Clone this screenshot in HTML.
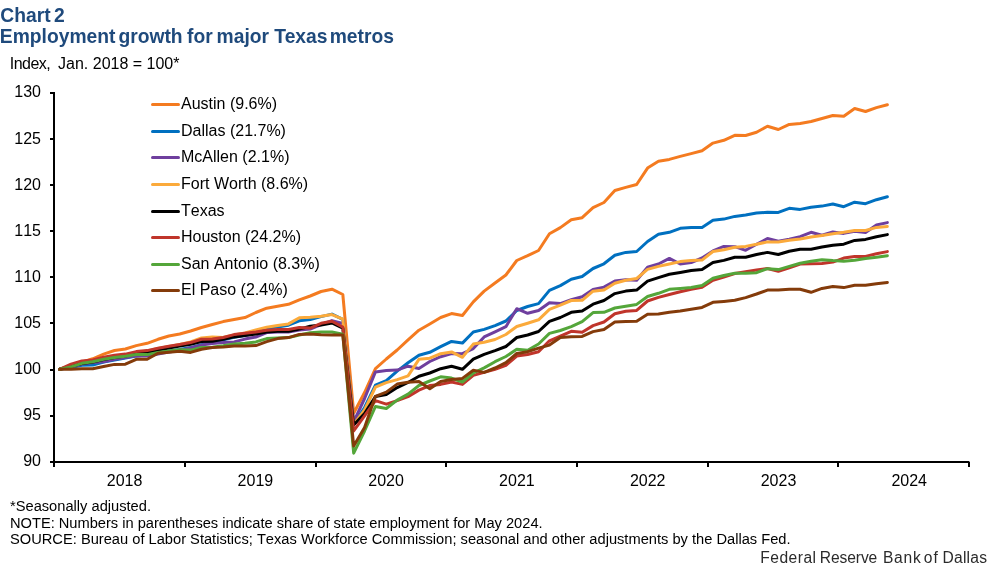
<!DOCTYPE html>
<html lang="en">
<head>
<meta charset="utf-8">
<title>Chart 2: Employment growth for major Texas metros</title>
<style>
html,body{margin:0;padding:0;background:#fff;}
body{width:997px;height:565px;overflow:hidden;position:relative;font-family:"Liberation Sans",Arial,Helvetica,sans-serif;}
svg{position:absolute;left:0;top:0;display:block;}
text{font-family:"Liberation Sans",Arial,Helvetica,sans-serif;font-kerning:none;}
.t{font-weight:bold;font-size:19.6px;fill:#1F4A7C;font-kerning:normal;}
.a{font-size:16px;fill:#000;}
.n{font-size:14.67px;fill:#000;}
.f{font-size:15.6px;fill:#2b2b2b;}
.ln{fill:none;stroke-width:3;stroke-linejoin:round;stroke-linecap:round;}
</style>
</head>
<body>
<svg width="997" height="565" viewBox="0 0 997 565">
<rect width="997" height="565" fill="#fff"/>

<text class="t" transform="translate(0,22.3) scale(0.9840,1)"><tspan x="0.30">Chart</tspan> <tspan x="54.88">2</tspan></text>
<text class="t" transform="translate(0,43.3) scale(0.9840,1)"><tspan x="-0.20">Employment</tspan> <tspan x="120.33">growth</tspan> <tspan x="190.14">for</tspan> <tspan x="220.12">major</tspan> <tspan x="278.76">Texas</tspan> <tspan x="335.06">metros</tspan></text>
<text class="a" x="9.8" y="69"><tspan style="letter-spacing:-0.55px">Index,</tspan><tspan dx="3.5"> Jan. 2018 = 100*</tspan></text>
<text class="a" x="41" y="466" text-anchor="end">90</text>
<text class="a" x="41" y="420" text-anchor="end">95</text>
<text class="a" x="41" y="374" text-anchor="end">100</text>
<text class="a" x="41" y="328" text-anchor="end">105</text>
<text class="a" x="41" y="282" text-anchor="end">110</text>
<text class="a" x="41" y="236" text-anchor="end">115</text>
<text class="a" x="41" y="190" text-anchor="end">120</text>
<text class="a" x="41" y="144" text-anchor="end">125</text>
<text class="a" x="41" y="97" text-anchor="end">130</text>
<text class="a" x="124.6" y="486" text-anchor="middle">2018</text>
<text class="a" x="255.4" y="486" text-anchor="middle">2019</text>
<text class="a" x="386.1" y="486" text-anchor="middle">2020</text>
<text class="a" x="516.9" y="486" text-anchor="middle">2021</text>
<text class="a" x="647.7" y="486" text-anchor="middle">2022</text>
<text class="a" x="778.5" y="486" text-anchor="middle">2023</text>
<text class="a" x="909.2" y="486" text-anchor="middle">2024</text>
<polyline class="ln" stroke="#F47B20" points="59.55,369.30 71.02,365.50 81.89,362.30 92.77,358.80 103.64,354.10 114.51,350.50 125.38,349.00 136.25,345.60 147.13,343.30 158.00,339.30 168.87,336.00 179.74,334.00 190.61,331.00 201.49,327.50 212.36,324.50 223.23,321.60 234.10,319.60 244.97,317.60 255.85,312.50 266.72,308.20 277.59,306.20 288.46,304.30 299.33,299.80 310.21,296.00 321.08,291.50 331.95,289.20 342.82,294.50 353.69,413.20 364.57,392.50 375.44,368.60 386.31,359.00 397.18,350.00 408.05,339.80 418.93,330.20 429.80,324.00 440.67,317.50 451.54,313.60 462.41,315.50 473.29,301.90 484.16,291.10 495.03,283.00 505.90,275.00 516.77,260.50 527.65,255.70 538.55,250.50 549.45,233.70 560.35,227.60 571.25,219.80 582.15,217.70 593.05,207.70 603.95,202.50 614.85,190.50 625.75,187.40 636.65,184.50 647.55,168.10 658.45,161.20 669.35,159.40 680.25,156.40 691.15,153.60 702.05,150.70 712.95,143.10 723.85,140.30 734.75,135.30 745.65,135.50 756.55,132.30 767.45,126.20 778.35,129.50 789.25,124.40 800.15,123.50 811.05,121.50 821.95,118.50 832.85,115.50 843.75,116.30 854.65,108.50 865.55,111.50 876.45,107.60 887.35,104.70"/>
<polyline class="ln" stroke="#0070C0" points="59.55,369.30 71.02,367.50 81.89,365.30 92.77,365.00 103.64,362.00 114.51,360.00 125.38,358.00 136.25,356.00 147.13,355.00 158.00,353.00 168.87,351.00 179.74,349.50 190.61,347.60 201.49,344.60 212.36,342.00 223.23,339.80 234.10,337.20 244.97,335.60 255.85,333.00 266.72,329.00 277.59,326.90 288.46,325.20 299.33,320.80 310.21,319.60 321.08,316.60 331.95,314.10 342.82,319.40 353.69,424.00 364.57,407.50 375.44,385.10 386.31,380.60 397.18,371.10 408.05,362.80 418.93,355.30 429.80,352.30 440.67,346.70 451.54,341.40 462.41,343.10 473.29,332.00 484.16,329.40 495.03,325.60 505.90,321.00 516.77,310.50 527.65,306.50 538.55,303.60 549.45,290.40 560.35,285.60 571.25,279.20 582.15,276.50 593.05,268.50 603.95,263.80 614.85,255.30 625.75,252.40 636.65,251.50 647.55,241.50 658.45,234.30 669.35,232.30 680.25,228.30 691.15,227.40 702.05,227.40 712.95,220.30 723.85,219.10 734.75,216.40 745.65,215.10 756.55,213.10 767.45,212.30 778.35,212.40 789.25,208.30 800.15,209.40 811.05,207.30 821.95,206.10 832.85,204.00 843.75,206.70 854.65,202.20 865.55,203.70 876.45,199.70 887.35,196.70"/>
<polyline class="ln" stroke="#6F3F9E" points="59.55,369.30 71.02,367.00 81.89,364.00 92.77,362.50 103.64,361.70 114.51,359.30 125.38,357.60 136.25,355.80 147.13,356.10 158.00,354.00 168.87,352.00 179.74,350.50 190.61,348.00 201.49,345.10 212.36,343.60 223.23,342.60 234.10,341.90 244.97,339.10 255.85,337.10 266.72,332.60 277.59,331.90 288.46,332.00 299.33,330.00 310.21,329.00 321.08,324.50 331.95,320.60 342.82,323.50 353.69,422.00 364.57,398.50 375.44,371.90 386.31,370.60 397.18,370.10 408.05,366.20 418.93,368.50 429.80,361.50 440.67,356.70 451.54,353.50 462.41,353.70 473.29,348.60 484.16,336.90 495.03,331.80 505.90,326.70 516.77,308.70 527.65,313.30 538.55,310.50 549.45,302.70 560.35,303.60 571.25,299.70 582.15,296.70 593.05,289.40 603.95,287.10 614.85,281.00 625.75,279.70 636.65,280.30 647.55,267.30 658.45,264.00 669.35,258.40 680.25,264.00 691.15,262.60 702.05,258.00 712.95,250.90 723.85,246.40 734.75,246.70 745.65,250.30 756.55,244.30 767.45,238.50 778.35,241.20 789.25,239.20 800.15,236.60 811.05,232.30 821.95,235.30 832.85,231.90 843.75,233.40 854.65,231.30 865.55,232.50 876.45,225.00 887.35,222.60"/>
<polyline class="ln" stroke="#FBAA3B" points="59.55,369.30 71.02,366.00 81.89,363.00 92.77,361.00 103.64,358.50 114.51,356.50 125.38,355.00 136.25,352.50 147.13,351.00 158.00,348.50 168.87,346.50 179.74,344.50 190.61,342.00 201.49,338.00 212.36,337.00 223.23,337.40 234.10,334.90 244.97,333.00 255.85,329.90 266.72,327.30 277.59,325.60 288.46,323.90 299.33,317.80 310.21,317.20 321.08,316.30 331.95,314.60 342.82,319.10 353.69,424.60 364.57,410.00 375.44,387.10 386.31,382.60 397.18,379.60 408.05,375.80 418.93,359.30 429.80,358.20 440.67,353.70 451.54,351.90 462.41,357.30 473.29,344.10 484.16,342.30 495.03,339.50 505.90,334.50 516.77,326.50 527.65,323.20 538.55,319.80 549.45,309.30 560.35,305.10 571.25,300.50 582.15,300.30 593.05,291.20 603.95,290.00 614.85,283.20 625.75,280.30 636.65,278.50 647.55,269.40 658.45,266.40 669.35,264.00 680.25,261.60 691.15,260.40 702.05,260.10 712.95,251.50 723.85,249.70 734.75,247.30 745.65,246.40 756.55,244.30 767.45,241.90 778.35,241.90 789.25,240.30 800.15,239.00 811.05,237.00 821.95,235.60 832.85,233.70 843.75,232.30 854.65,230.50 865.55,230.50 876.45,227.40 887.35,226.50"/>
<polyline class="ln" stroke="#000000" points="59.55,369.30 71.02,366.30 81.89,363.50 92.77,362.00 103.64,359.50 114.51,357.50 125.38,356.00 136.25,353.50 147.13,352.30 158.00,350.00 168.87,348.00 179.74,346.00 190.61,344.20 201.49,341.60 212.36,341.20 223.23,339.30 234.10,336.90 244.97,335.60 255.85,334.10 266.72,332.10 277.59,331.30 288.46,331.30 299.33,329.10 310.21,326.30 321.08,325.10 331.95,323.00 342.82,328.20 353.69,425.00 364.57,413.50 375.44,396.60 386.31,394.60 397.18,387.60 408.05,382.50 418.93,376.30 429.80,373.00 440.67,368.70 451.54,366.30 462.41,369.30 473.29,359.10 484.16,354.30 495.03,350.60 505.90,346.50 516.77,337.50 527.65,335.00 538.55,331.50 549.45,321.30 560.35,317.50 571.25,312.30 582.15,311.10 593.05,304.20 603.95,300.50 614.85,293.60 625.75,291.10 636.65,290.10 647.55,281.20 658.45,277.60 669.35,274.30 680.25,272.50 691.15,270.60 702.05,269.40 712.95,262.50 723.85,260.40 734.75,257.30 745.65,257.30 756.55,254.50 767.45,252.40 778.35,254.50 789.25,251.20 800.15,249.30 811.05,249.30 821.95,247.00 832.85,245.20 843.75,244.20 854.65,240.40 865.55,239.40 876.45,236.80 887.35,234.60"/>
<polyline class="ln" stroke="#C0352B" points="59.55,369.30 71.02,364.10 81.89,360.90 92.77,359.90 103.64,357.30 114.51,355.30 125.38,354.10 136.25,351.60 147.13,350.60 158.00,348.30 168.87,346.30 179.74,344.40 190.61,342.60 201.49,339.20 212.36,339.00 223.23,337.50 234.10,334.60 244.97,333.30 255.85,332.10 266.72,330.30 277.59,329.60 288.46,329.60 299.33,327.60 310.21,328.10 321.08,323.30 331.95,321.30 342.82,327.10 353.69,430.90 364.57,415.80 375.44,400.60 386.31,404.20 397.18,400.60 408.05,396.60 418.93,390.10 429.80,385.60 440.67,384.40 451.54,382.00 462.41,384.40 473.29,375.40 484.16,372.40 495.03,369.40 505.90,365.40 516.77,356.00 527.65,354.50 538.55,351.70 549.45,340.80 560.35,336.10 571.25,331.30 582.15,332.20 593.05,325.60 603.95,322.00 614.85,313.70 625.75,311.30 636.65,310.40 647.55,301.00 658.45,297.40 669.35,294.50 680.25,291.70 691.15,289.30 702.05,287.20 712.95,280.20 723.85,277.00 734.75,273.60 745.65,271.80 756.55,270.00 767.45,268.50 778.35,271.30 789.25,267.80 800.15,264.00 811.05,263.70 821.95,263.50 832.85,262.10 843.75,258.10 854.65,256.40 865.55,256.40 876.45,253.70 887.35,251.60"/>
<polyline class="ln" stroke="#54A63A" points="59.55,369.30 71.02,366.90 81.89,363.30 92.77,361.70 103.64,359.30 114.51,357.40 125.38,356.30 136.25,354.60 147.13,354.60 158.00,352.50 168.87,351.10 179.74,349.80 190.61,350.10 201.49,347.40 212.36,347.20 223.23,345.80 234.10,344.10 244.97,343.30 255.85,341.90 266.72,338.60 277.59,337.90 288.46,337.60 299.33,335.00 310.21,332.70 321.08,332.00 331.95,332.00 342.82,334.20 353.69,453.20 364.57,431.00 375.44,406.50 386.31,408.50 397.18,400.10 408.05,394.10 418.93,385.50 429.80,381.00 440.67,376.80 451.54,378.10 462.41,382.00 473.29,373.00 484.16,367.90 495.03,361.70 505.90,356.50 516.77,349.20 527.65,350.30 538.55,344.00 549.45,333.40 560.35,330.50 571.25,326.60 582.15,321.70 593.05,312.60 603.95,312.30 614.85,308.00 625.75,306.20 636.65,304.40 647.55,296.50 658.45,293.30 669.35,289.30 680.25,288.50 691.15,287.50 702.05,285.60 712.95,278.30 723.85,275.50 734.75,273.30 745.65,273.20 756.55,272.70 767.45,268.70 778.35,269.60 789.25,266.40 800.15,263.20 811.05,261.30 821.95,259.70 832.85,260.60 843.75,261.20 854.65,260.30 865.55,258.50 876.45,257.30 887.35,255.70"/>
<polyline class="ln" stroke="#843B0A" points="59.55,369.30 71.02,369.30 81.89,368.70 92.77,368.70 103.64,366.50 114.51,364.40 125.38,364.20 136.25,359.30 147.13,359.30 158.00,353.20 168.87,352.30 179.74,351.30 190.61,352.40 201.49,349.20 212.36,347.50 223.23,347.10 234.10,346.10 244.97,346.10 255.85,345.60 266.72,341.60 277.59,338.60 288.46,337.60 299.33,334.40 310.21,334.00 321.08,334.70 331.95,335.00 342.82,335.00 353.69,446.00 364.57,427.50 375.44,396.30 386.31,392.10 397.18,384.10 408.05,382.30 418.93,381.40 429.80,388.80 440.67,381.40 451.54,379.60 462.41,378.40 473.29,370.30 484.16,372.40 495.03,368.00 505.90,362.60 516.77,353.50 527.65,351.70 538.55,348.10 549.45,345.10 560.35,337.40 571.25,336.70 582.15,336.40 593.05,331.60 603.95,329.50 614.85,322.00 625.75,321.60 636.65,321.20 647.55,314.20 658.45,314.00 669.35,312.20 680.25,311.00 691.15,309.20 702.05,307.40 712.95,302.30 723.85,301.40 734.75,300.30 745.65,297.60 756.55,294.00 767.45,290.10 778.35,290.10 789.25,289.30 800.15,289.20 811.05,292.30 821.95,288.40 832.85,286.50 843.75,287.60 854.65,285.30 865.55,285.30 876.45,283.70 887.35,282.50"/>
<path d="M54 92 V463 M53 462 H969.4 M50 93 H54 M50 139 H54 M50 185 H54 M50 231 H54 M50 277 H54 M50 323 H54 M50 370 H54 M50 416 H54 M50 462 H54 M54 462 V467 M185 462 V467 M316 462 V467 M446 462 V467 M577 462 V467 M708 462 V467 M838 462 V467 M969 462 V467" fill="none" stroke="#000" stroke-width="2"/>
<line class="ln" stroke="#F47B20" x1="152.5" y1="104.5" x2="178.5" y2="104.5"/>
<text class="a" x="181" y="109.0">Austin (9.6%)</text>
<line class="ln" stroke="#0070C0" x1="152.5" y1="131.5" x2="178.5" y2="131.5"/>
<text class="a" x="181" y="136.0">Dallas (21.7%)</text>
<line class="ln" stroke="#6F3F9E" x1="152.5" y1="157.5" x2="178.5" y2="157.5"/>
<text class="a" x="181" y="162.0">McAllen (2.1%)</text>
<line class="ln" stroke="#FBAA3B" x1="152.5" y1="184.5" x2="178.5" y2="184.5"/>
<text class="a" x="181" y="189.0">Fort Worth (8.6%)</text>
<line class="ln" stroke="#000000" x1="152.5" y1="211.5" x2="178.5" y2="211.5"/>
<text class="a" x="181" y="216.0">Texas</text>
<line class="ln" stroke="#C0352B" x1="152.5" y1="237.5" x2="178.5" y2="237.5"/>
<text class="a" x="181" y="242.0">Houston (24.2%)</text>
<line class="ln" stroke="#54A63A" x1="152.5" y1="264.5" x2="178.5" y2="264.5"/>
<text class="a" x="181" y="269.0">San Antonio (8.3%)</text>
<line class="ln" stroke="#843B0A" x1="152.5" y1="290.5" x2="178.5" y2="290.5"/>
<text class="a" x="181" y="295.0">El Paso (2.4%)</text>
<text class="n" x="10" y="511">*Seasonally adjusted.</text>
<text class="n" x="10" y="527.6" textLength="532.6" lengthAdjust="spacing">NOTE: Numbers in parentheses indicate share of state employment for May 2024.</text>
<text class="n" x="10" y="543.6" textLength="780.6" lengthAdjust="spacing">SOURCE: Bureau of Labor Statistics; Texas Workforce Commission; seasonal and other adjustments by the Dallas Fed.</text>
<text class="f" y="562.7"><tspan x="760.30" style="letter-spacing:0.480px">Federal</tspan> <tspan x="819.80" style="letter-spacing:-0.100px">Reserve</tspan> <tspan x="882.90" style="letter-spacing:0.800px">Bank</tspan> <tspan x="923.70" style="letter-spacing:1.100px">of</tspan> <tspan x="942.50" style="letter-spacing:0.240px">Dallas</tspan></text>
</svg>
</body>
</html>
